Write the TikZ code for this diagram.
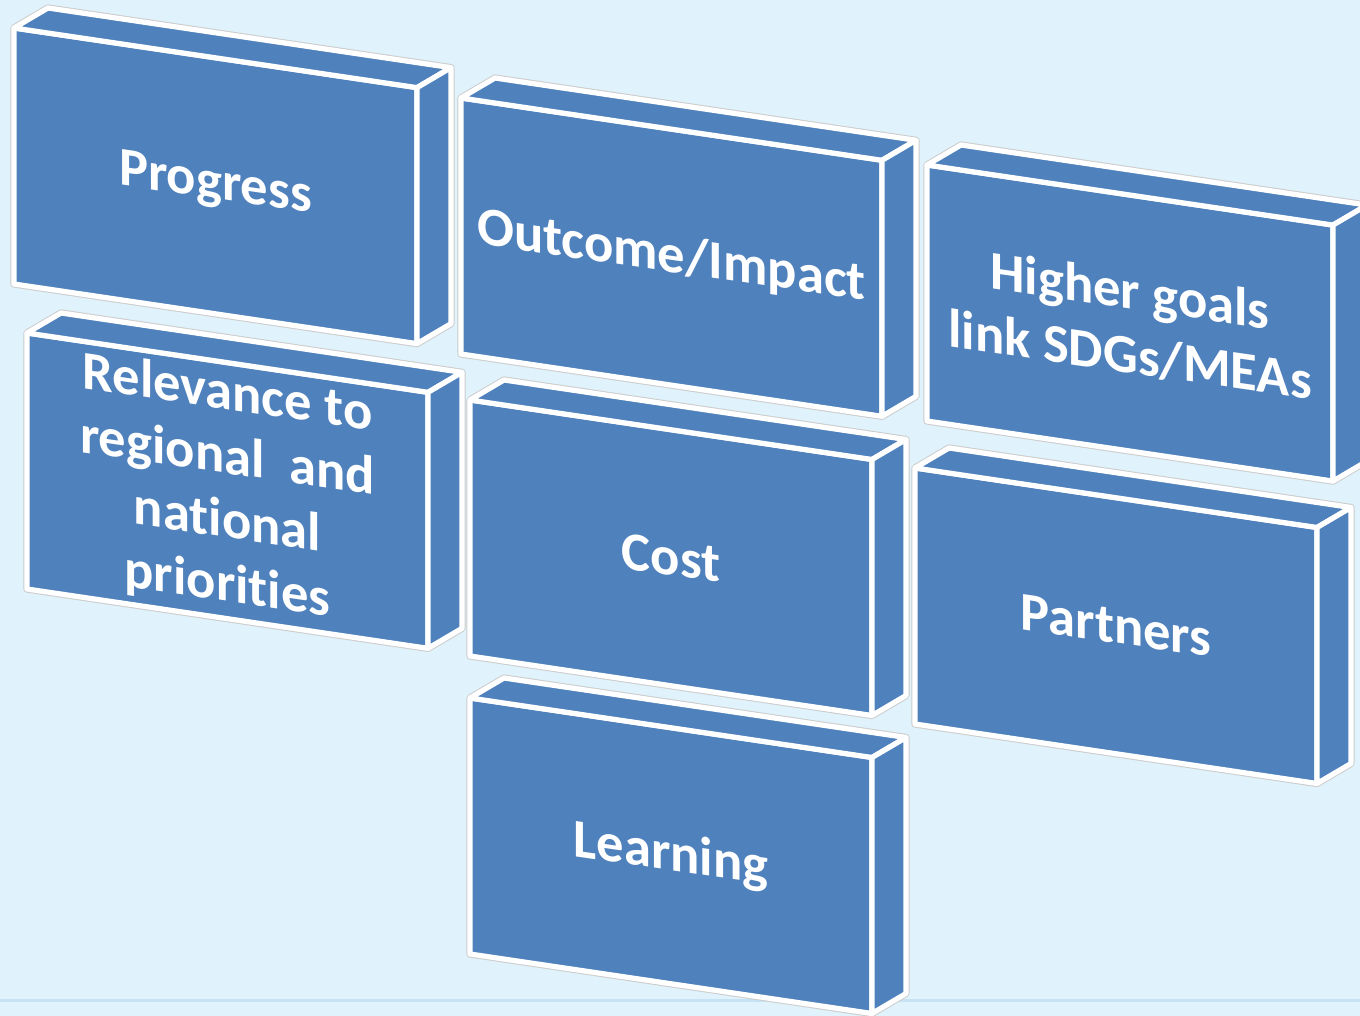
\documentclass[tikz,border=0pt]{standalone}
\usepackage{fontspec}
\setmainfont{Carlito}[Ligatures=NoCommon]
\usepackage{tikz}
\definecolor{slide}{HTML}{E0F2FC}
\definecolor{rulecol}{HTML}{C6E3F5}
\definecolor{slabblue}{HTML}{4F81BD}
\tikzset{x=0.5pt,y=-0.5pt,
  face/.style={fill=slabblue,draw=white,line width=2.6pt,line join=round},
  rim/.style={draw=gray!40,line width=3.6pt,line join=round},
  slabtext/.style={text=white,font=\fontsize{27.3}{32}\selectfont\bfseries,align=center,yslant=-0.145}}
% #1 name, #2 x, #3 y of front top-left corner, #4 width, #5 text
\newcommand{\slab}[5]{%
  \path[rim] (#2,#3) -- ++(34,-20) -- ({#2+#4+34},{#3+0.148*#4-20}) -- ++(0,256)
    -- ({#2+#4},{#3+0.148*#4+256}) -- (#2,{#3+256}) -- cycle;
  \path[face] (#2,#3) -- ({#2+#4},{#3+0.148*#4}) -- ++(0,256) -- (#2,{#3+256}) -- cycle;
  \path[face] (#2,#3) -- ++(34,-20) -- ({#2+#4+34},{#3+0.148*#4-20}) -- ({#2+#4},{#3+0.148*#4}) -- cycle;
  \path[face] ({#2+#4},{#3+0.148*#4}) -- ++(34,-20) -- ++(0,256) -- ++(-34,20) -- cycle;
  \node[slabtext] (#1) at ({#2+#4/2},{#3+0.074*#4+128}) {#5};}

\begin{document}
\begin{tikzpicture}
    \fill[slide] (0,0) rectangle (1360,1016);
    \useasboundingbox (0,0) rectangle (1360,1016);
    \draw[rulecol,line width=1.5pt] (0,1000) -- (1360,1000);
    \slab{1}{14}{28}{403}{Progress}
    \slab{2}{461}{98}{421}{Outcome/Impact}
    \slab{3}{927}{165}{406}{Higher goals\\link SDGs/MEAs}
    \slab{4}{27}{333}{401}{Relevance to\\regional\ \ and\\national\\priorities}
    \slab{5}{470}{400}{402}{Cost}
    \slab{6}{915}{468}{402}{Partners}
    \slab{7}{470}{698}{402}{Learning}
\end{tikzpicture}
\end{document}
